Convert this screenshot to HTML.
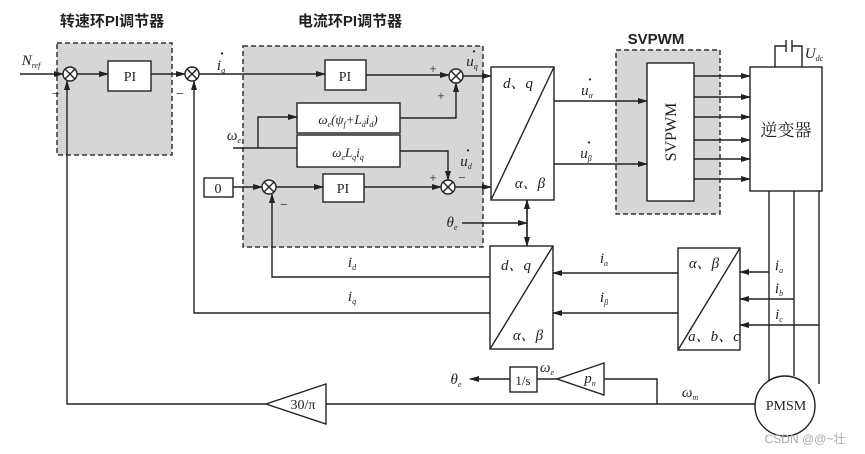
<!DOCTYPE html>
<html><head><meta charset="utf-8"><style>body{margin:0;background:#fff}svg{display:block}</style></head><body>
<svg width="865" height="454" viewBox="0 0 865 454" xmlns="http://www.w3.org/2000/svg" font-family="Liberation Serif, Noto Serif CJK SC, serif">
<defs><marker id="a" markerWidth="10" markerHeight="8" refX="9" refY="4" orient="auto" markerUnits="userSpaceOnUse"><path d="M0,1 L10,4 L0,7 Z" fill="#222"/></marker></defs>
<g fill="#d6d6d6" stroke="#333" stroke-width="1.5" stroke-dasharray="5,3">
<rect x="57" y="43" width="115" height="112"/>
<rect x="243" y="46" width="240" height="201"/>
<rect x="616" y="50" width="104" height="164"/>
</g>
<g font-family="Liberation Sans, Noto Sans CJK SC, sans-serif" font-weight="bold" font-size="15" fill="#222" text-anchor="middle">
<text x="112" y="26">转速环PI调节器</text><text x="350" y="26">电流环PI调节器</text><text x="656" y="44">SVPWM</text></g>
<g stroke="#222" stroke-width="1.4" fill="none">
<g fill="#fff"><circle cx="70" cy="74" r="7"/><circle cx="192" cy="74" r="7"/><circle cx="456" cy="76" r="7"/><circle cx="448" cy="187" r="7"/><circle cx="269" cy="187" r="7"/></g>
<path d="M65,69l10,10M75,69l-10,10M187,69l10,10M197,69l-10,10M451,71l10,10M461,71l-10,10M443,182l10,10M453,182l-10,10M264,182l10,10M274,182l-10,10"/>
<g fill="#fff"><rect x="108" y="61" width="43" height="30"/><rect x="325" y="60" width="41" height="30"/><rect x="297" y="103" width="103" height="30"/><rect x="297" y="135" width="103" height="32"/><rect x="204" y="178" width="29" height="19"/><rect x="323" y="174" width="41" height="28"/>
<rect x="491" y="67" width="63" height="133"/><rect x="647" y="63" width="47" height="138"/><rect x="750" y="67" width="72" height="124"/>
<rect x="490" y="246" width="63" height="103"/><rect x="678" y="248" width="62" height="102"/><rect x="510" y="367" width="27" height="25"/></g>
<path d="M491,200L554,67M490,349L553,246M678,350L740,248"/>
<path d="M20,74H63" marker-end="url(#a)"/><path d="M77,74H108" marker-end="url(#a)"/><path d="M151,74H185" marker-end="url(#a)"/>
<path d="M199,74H325" marker-end="url(#a)"/><path d="M366,75H449" marker-end="url(#a)"/><path d="M463,76H491" marker-end="url(#a)"/>
<path d="M400,118H456V83" marker-end="url(#a)"/><path d="M233,148H297"/><path d="M258,148V117H297" marker-end="url(#a)"/>
<path d="M400,151H448V180" marker-end="url(#a)"/>
<path d="M233,187H262" marker-end="url(#a)"/><path d="M276,187H323" marker-end="url(#a)"/><path d="M364,187H441" marker-end="url(#a)"/><path d="M455,187H491" marker-end="url(#a)"/>
<path d="M462,223H527" marker-end="url(#a)"/><path d="M527,200V246" marker-end="url(#a)"/><path d="M527,246V200" marker-end="url(#a)"/>
<path d="M554,101H647" marker-end="url(#a)"/><path d="M554,164H647" marker-end="url(#a)"/>
<path d="M694,76H750" marker-end="url(#a)"/><path d="M694,97H750" marker-end="url(#a)"/><path d="M694,117H750" marker-end="url(#a)"/><path d="M694,140H750" marker-end="url(#a)"/><path d="M694,159H750" marker-end="url(#a)"/><path d="M694,179H750" marker-end="url(#a)"/>
<path d="M775,67V46H786M792,46H802V67M786,40V52M792,40V52"/>
<path d="M769,191V384M794,191V376M819,191V384"/>
<path d="M769,272H740" marker-end="url(#a)"/><path d="M794,299H740" marker-end="url(#a)"/><path d="M819,325H740" marker-end="url(#a)"/>
<path d="M678,273H553" marker-end="url(#a)"/><path d="M678,313H553" marker-end="url(#a)"/>
<path d="M490,277H272V194" marker-end="url(#a)"/><path d="M490,313H194V81" marker-end="url(#a)"/>
<path d="M755,404H326M266,404H67V81" marker-end="url(#a)"/>
<path d="M326,384L266,404L326,424Z" fill="#fff"/>
<path d="M657,404V379H604"/><path d="M604,363L557,379L604,395Z" fill="#fff"/><path d="M557,379H537"/><path d="M510,379H470" marker-end="url(#a)"/>
<circle cx="785" cy="406" r="30" fill="#fff"/>
</g>
<g fill="#222" font-size="14" text-anchor="middle">
<text x="130" y="81">PI</text><text x="345" y="81">PI</text><text x="343" y="193">PI</text><text x="218" y="193">0</text>
<text x="348" y="124" font-style="italic" font-size="13">ω<tspan font-size="8" dy="3">e</tspan><tspan dy="-3">(ψ</tspan><tspan font-size="8" dy="3">f</tspan><tspan dy="-3">+L</tspan><tspan font-size="8" dy="3">d</tspan><tspan dy="-3">i</tspan><tspan font-size="8" dy="3">d</tspan><tspan dy="-3">)</tspan></text>
<text x="348" y="157" font-style="italic" font-size="13">ω<tspan font-size="8" dy="3">e</tspan><tspan dy="-3">L</tspan><tspan font-size="8" dy="3">q</tspan><tspan dy="-3">i</tspan><tspan font-size="8" dy="3">q</tspan></text>
<g font-style="italic" font-size="15">
<text x="518" y="88">d、q</text><text x="530" y="188">α、β</text><text x="516" y="270">d、q</text><text x="528" y="340">α、β</text><text x="704" y="268">α、β</text><text x="714" y="341">a、b、c</text>
<text x="31" y="65">N<tspan font-size="8" dy="3">ref</tspan></text><text x="221" y="70">i<tspan font-size="8" dy="3">q</tspan></text>
<text x="472" y="66">u<tspan font-size="8" dy="3">q</tspan></text><text x="466" y="166">u<tspan font-size="8" dy="3">d</tspan></text>
<text x="234" y="140">ω<tspan font-size="8" dy="3">e</tspan></text><text x="452" y="227">θ<tspan font-size="8" dy="3">e</tspan></text>
<text x="587" y="95">u<tspan font-size="8" dy="3">α</tspan></text><text x="586" y="158">u<tspan font-size="8" dy="3">β</tspan></text>
<text x="352" y="267">i<tspan font-size="8" dy="3">d</tspan></text><text x="352" y="301">i<tspan font-size="8" dy="3">q</tspan></text>
<text x="604" y="263">i<tspan font-size="8" dy="3">α</tspan></text><text x="604" y="302">i<tspan font-size="8" dy="3">β</tspan></text>
<text x="779" y="270">i<tspan font-size="8" dy="3">a</tspan></text><text x="779" y="293">i<tspan font-size="8" dy="3">b</tspan></text><text x="779" y="319">i<tspan font-size="8" dy="3">c</tspan></text>
<text x="814" y="58">U<tspan font-size="8" dy="3">dc</tspan></text>
<text x="456" y="384">θ<tspan font-size="8" dy="3">e</tspan></text><text x="547" y="372">ω<tspan font-size="8" dy="3">e</tspan></text>
<text x="590" y="383">p<tspan font-size="8" dy="3">n</tspan></text><text x="690" y="397">ω<tspan font-size="8" dy="3">m</tspan></text></g>
<g font-size="14" font-weight="bold"><text x="222" y="58">·</text><text x="474" y="56">·</text><text x="468" y="155">·</text><text x="590" y="84">·</text><text x="589" y="147">·</text></g>
<text x="523" y="385" font-size="13">1/s</text><text x="303" y="409" font-size="14">30/π</text>
<text x="786" y="410" font-size="14">PMSM</text>
<text x="786" y="136" font-size="17" font-family="Noto Serif CJK SC, serif">逆变器</text>
<text transform="translate(676,132) rotate(-90)" font-size="16">SVPWM</text>
<text x="433" y="73" font-size="13">+</text><text x="441" y="100" font-size="13">+</text><text x="433" y="182" font-size="13">+</text><text x="462" y="182" font-size="13">−</text>
<text x="56" y="98" font-size="14">−</text><text x="180" y="98" font-size="14">−</text><text x="284" y="209" font-size="14">−</text>
<text x="805" y="443" font-size="12" fill="#aaa" font-family="Liberation Sans, Noto Sans CJK SC, sans-serif">CSDN @@~壮</text>
</g>
</svg>
</body></html>
